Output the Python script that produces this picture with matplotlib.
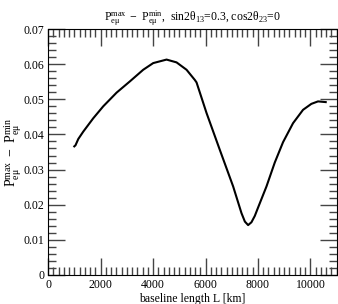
import numpy as np
import matplotlib
matplotlib.use("Agg")
import matplotlib.pyplot as plt
from matplotlib.ticker import MultipleLocator, FuncFormatter

plt.rcParams['font.family'] = ['Liberation Serif', 'DejaVu Serif']
plt.rcParams['mathtext.fontset'] = 'custom'
plt.rcParams['mathtext.rm'] = 'Liberation Serif'
plt.rcParams['mathtext.it'] = 'Liberation Serif'
plt.rcParams['mathtext.bf'] = 'Liberation Serif:bold'

# baseline length [km] and P_max - P_min
L_km = [995, 1040, 1147, 1337, 1718, 2099, 2609, 3116, 3623, 4004, 4514, 4895,
        5276, 5592, 5657, 6038, 6545, 7053, 7371, 7500, 7624, 7750, 7878, 8004,
        8324, 8640, 8956, 9337, 9718, 10036, 10290, 10583]
dP = [0.0366, 0.0369, 0.0387, 0.0408, 0.0446, 0.0480, 0.0519, 0.0551, 0.0584,
      0.0603, 0.0613, 0.0605, 0.0584, 0.0555, 0.0548, 0.0461, 0.0356, 0.0252,
      0.0176, 0.0152, 0.0142, 0.0150, 0.0168, 0.0192, 0.0252, 0.0320, 0.0378,
      0.0432, 0.0470, 0.0487, 0.0494, 0.0492]

fig = plt.figure(figsize=(3.38, 3.04), dpi=100)
ax = fig.add_axes([0.1426, 0.0954, 0.8534, 0.8092])

ax.plot(L_km, dP, color='black', lw=1.5)

ax.set_xlim(0, 11000)
ax.set_ylim(0, 0.07)
ax.xaxis.set_major_locator(MultipleLocator(2000))
ax.xaxis.set_minor_locator(MultipleLocator(200))
ax.yaxis.set_major_locator(MultipleLocator(0.01))
ax.yaxis.set_minor_locator(MultipleLocator(0.002))
ax.xaxis.set_major_formatter(FuncFormatter(lambda v, p: '%d' % round(v)))
ax.yaxis.set_major_formatter(FuncFormatter(lambda v, p: '0' if abs(v) < 1e-9 else '%.2f' % v))
ax.tick_params(which='both', direction='in', top=True, right=True, labelsize=8.5, pad=3)
ax.tick_params(which='major', length=12, width=1, color='#444444')
ax.tick_params(which='minor', length=5.5, width=1, color='#444444')

ax.set_xlabel('baseline length L [km]', fontsize=8.5, labelpad=1)
ax.set_ylabel(r'$\mathrm{P_{e\mu}^{max}\ -\ P_{e\mu}^{min}}$', fontsize=10)
ax.yaxis.set_label_coords(-0.085, 0.5)
ax.set_title(r'$\mathrm{P_{e\mu}^{max}\ -\ P_{e\mu}^{min}}$,  sin2$\theta_{13}$=0.3, cos2$\theta_{23}$=0',
             fontsize=8.5, pad=6)

fig.savefig('out.png', dpi=100)
